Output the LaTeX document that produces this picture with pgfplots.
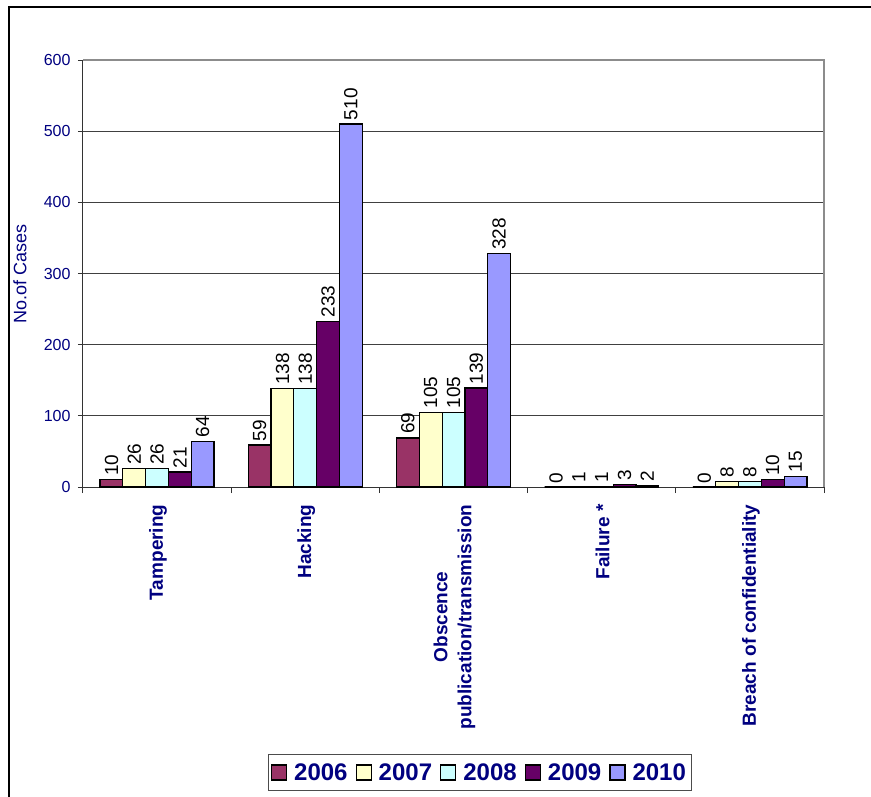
\documentclass[border=0pt]{standalone}
\usepackage{fontspec}
\setmainfont{Liberation Sans}
\usepackage{pgfplots}
\pgfplotsset{compat=1.18}
\definecolor{navyc}{HTML}{000080}
\definecolor{cA}{HTML}{993366}
\definecolor{cB}{HTML}{FFFFCC}
\definecolor{cC}{HTML}{CCFFFF}
\definecolor{cD}{HTML}{660066}
\definecolor{cE}{HTML}{9999FF}
\begin{document}
\begin{tikzpicture}
\begin{axis}[
  scale only axis, width=741pt, height=427pt,
  xmin=-0.5, xmax=4.5, ymin=0, ymax=600,
  axis x line*=bottom, axis y line*=left,
  axis line style={-, black!80, line width=1pt},
  ybar=0pt, bar width=22.8pt,
  xtick={0,1,2,3,4},
  xticklabels={Tampering,Hacking,{Obscence\\publication/transmission},Failure *,Breach of confidentiality},
  major x tick style={draw=none},
  minor xtick={-0.5,0.5,1.5,2.5,3.5,4.5},
  minor tick length=6pt,
  minor x tick style={black!80, line width=1pt},
  tick align=outside,
  ytick={0,100,...,600},
  major tick length=5pt,
  major y tick style={black!80, line width=1pt},
  ymajorgrids,
  major grid style={black!75, line width=0.8pt},
  /pgf/number format/assume math mode=true,
  yticklabel style={font=\fontsize{16}{19}\selectfont, text=navyc, xshift=-4pt},
  xticklabel style={yshift=-9pt, xshift=1pt, rotate=90, anchor=east, align=center, font=\fontsize{19}{24}\selectfont\bfseries, text=navyc},
  ylabel={No.of Cases},
  every axis y label/.style={at={(rel axis cs:0,0.5)}, xshift=-63pt, rotate=90, anchor=center, font=\fontsize{18}{21}\selectfont, text=navyc},
  nodes near coords,
  every node near coord/.append style={rotate=90, anchor=west, font=\fontsize{19}{22}\selectfont, text=black},
  legend columns=5,
  legend style={at={(0.535,-0.625)}, anchor=north, draw=black!70, line width=0.8pt,
    font=\fontsize{24}{28}\selectfont\bfseries, text=navyc,
    inner xsep=3pt, inner ysep=7pt,
    /tikz/every odd column/.append style={column sep=5pt},
    /tikz/every even column/.append style={column sep=6pt}},
  legend image code/.code={\draw[#1, draw=black, line width=1.2pt] (0pt,-7.5pt) rectangle (15pt,7.5pt);},
  after end axis/.code={\draw[black!45, line width=1.2pt] (rel axis cs:0,1) -- (rel axis cs:1,1) -- (rel axis cs:1,0);},
]
\addplot[fill=cA, draw=black, line width=1.2pt] coordinates {(0,10) (1,59) (2,69) (3,0) (4,0)};
\addplot[fill=cB, draw=black, line width=1.2pt] coordinates {(0,26) (1,138) (2,105) (3,1) (4,8)};
\addplot[fill=cC, draw=black, line width=1.2pt] coordinates {(0,26) (1,138) (2,105) (3,1) (4,8)};
\addplot[fill=cD, draw=black, line width=1.2pt] coordinates {(0,21) (1,233) (2,139) (3,3) (4,10)};
\addplot[fill=cE, draw=black, line width=1.2pt] coordinates {(0,64) (1,510) (2,328) (3,2) (4,15)};
\legend{2006,2007,2008,2009,2010}
\coordinate (O) at (rel axis cs:0,0);
\end{axis}
\begin{scope}[shift={(O)}, x=1pt, y=1pt]
\draw[line width=2pt] (-73.5,-320) -- (-73.5,479.5) -- (800,479.5);
\pgfresetboundingbox
\path[use as bounding box] (-83,-309) rectangle (788,487);
\end{scope}
\end{tikzpicture}
\end{document}
